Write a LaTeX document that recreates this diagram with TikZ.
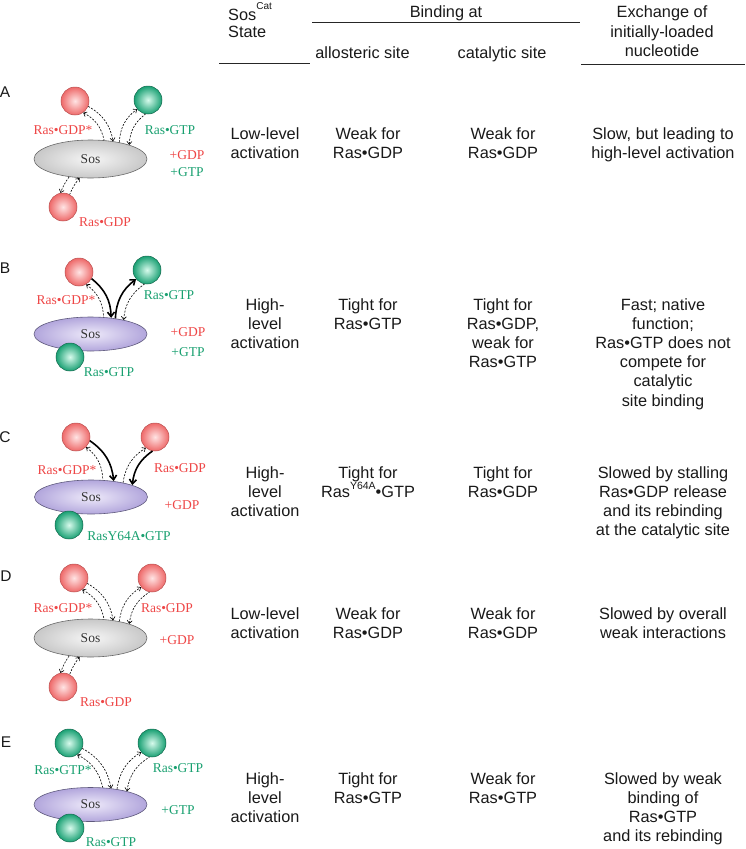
\documentclass[tikz,border=0pt]{standalone}
\usepackage{fontspec}
\setmainfont{Liberation Sans}
\newfontfamily\serif{Liberation Serif}
\usetikzlibrary{arrows.meta,shapes.geometric,calc}
\definecolor{redtxt}{RGB}{238,70,70}
\definecolor{greentxt}{RGB}{25,160,112}
\definecolor{ballR}{RGB}{238,105,105}
\definecolor{ballRin}{RGB}{255,228,228}
\definecolor{ballRd}{RGB}{185,80,80}
\definecolor{ballG}{RGB}{25,160,115}
\definecolor{ballGin}{RGB}{215,250,236}
\definecolor{ballGd}{RGB}{20,105,78}
\definecolor{grayin}{RGB}{246,246,246}
\definecolor{grayout}{RGB}{200,200,200}
\definecolor{grayd}{RGB}{105,105,105}
\definecolor{purin}{RGB}{238,234,250}
\definecolor{purout}{RGB}{178,166,220}
\definecolor{purd}{RGB}{95,90,125}
\definecolor{tabtxt}{RGB}{25,25,25}
\begin{document}
\begin{tikzpicture}[x=1pt,y=-1pt,
  tab/.style={font=\fontsize{16.3}{19.2}\selectfont, text=tabtxt, align=center, anchor=north, inner sep=0pt},
  hdr/.style={font=\fontsize{16.3}{19.5}\selectfont, text=tabtxt, inner sep=0pt},
  lbl/.style={font=\serif\fontsize{13.5}{16}\selectfont, inner sep=0pt},
  rlbl/.style={lbl, text=redtxt},
  glbl/.style={lbl, text=greentxt},
  letter/.style={font=\fontsize{15.5}{18}\selectfont, text=tabtxt, inner sep=0pt},
  redball/.style={circle, minimum size=28pt, inner sep=0pt, inner color=ballRin, outer color=ballR, draw=ballRd, line width=0.5pt},
  greenball/.style={circle, minimum size=28pt, inner sep=0pt, inner color=ballGin, outer color=ballG, draw=ballGd, line width=0.5pt},
  sosbase/.style={ellipse, minimum width=113pt, inner sep=0pt, line width=0.6pt, font=\serif\fontsize{13.5}{16}\selectfont, text=black!80},
  sosgray/.style={sosbase, minimum height=38pt, inner color=grayin, outer color=grayout, draw=grayd},
  sospurple/.style={sosbase, minimum height=34pt, inner color=purin, outer color=purout, draw=purd},
  dar/.style={dash pattern=on 2pt off 1.4pt, line width=0.6pt, -{Straight Barb[length=3pt,width=5pt]}},
  dal/.style={dash pattern=on 2pt off 1.4pt, line width=0.6pt, {Straight Barb[length=3pt,width=5pt]}-},
  thk/.style={line width=1.6pt, -{Straight Barb[length=4.5pt,width=7pt]}},
  thkl/.style={line width=1.6pt, {Straight Barb[length=4.5pt,width=7pt]}-},
  rule/.style={line width=1pt, draw=black!85},
  bl/.style={bend left=25},
  br/.style={bend right=8}
]
\useasboundingbox (0,0) rectangle (745,849);

% ---------- header ----------
\node[hdr, anchor=base west] (hsos) at (228,20) {Sos\smash{\raisebox{10.5pt}{\fontsize{10}{10}\selectfont Cat}}};
\node[hdr, anchor=base west] (hstate) at (228,37) {State};
\node[hdr, anchor=base] (hbind) at (446,17.5) {Binding at};
\node[hdr, anchor=base] (hallo) at (362.5,58) {allosteric site};
\node[hdr, anchor=base] (hcat) at (502,58) {catalytic site};
\node[hdr, anchor=base] (hex1) at (662,17) {Exchange of};
\node[hdr, anchor=base] (hex2) at (662,37) {initially-loaded};
\node[hdr, anchor=base] (hex3) at (662,56.5) {nucleotide};
\draw[rule] (219,63) -- (310,63);
\draw[rule] (312,22) -- (580,22);
\draw[rule] (581,64) -- (745,64);

% ---------- row A ----------
\node[letter] (lA) at (5,92) {A};
\node[sosgray] (sosA) at (90.5,159) {Sos};
\node[redball] (blA) at (75,101) {};
\node[greenball] (brA) at (148,100) {};
\node[redball] (bbA) at (63,207) {};
\node[rlbl] (tA1) at (63,130) {Ras•GDP*};
\node[glbl] (tA2) at (170,130) {Ras•GTP};
\node[rlbl] (tA3) at (187,155) {+GDP};
\node[glbl] (tA4) at (187,172) {+GTP};
\node[rlbl] (tA5) at (105,222) {Ras•GDP};
\draw[dal] (blA.-55) to[bl] (sosA.54);
\draw[dar] (blA.-22) to[bl] (sosA.38);
\draw[dar] (sosA.30) to[bl] (brA.-140);
\draw[dal] (sosA.20) to[bl] (brA.-100);
\draw[dar] (sosA.-140) to[br] (bbA.100);
\draw[dal] (sosA.-120) to[br] (bbA.62);

\node[tab] (sA) at (265,127.5) {Low-level\\activation};
\node[tab] (aA) at (368,127.5) {Weak for\\Ras•GDP};
\node[tab] (cA) at (503,127.5) {Weak for\\Ras•GDP};
\node[tab] (eA) at (663,127.5) {Slow, but leading to\\high-level activation};

% ---------- row B ----------
\node[letter] (lB) at (5,268) {B};
\node[sospurple] (sosB) at (90.5,334) {Sos};
\node[redball] (blB) at (79,272) {};
\node[greenball] (brB) at (147,270) {};
\node[greenball] (bbB) at (70,357) {};
\node[rlbl] (tB1) at (66,300) {Ras•GDP*};
\node[glbl] (tB2) at (169,295) {Ras•GTP};
\node[rlbl] (tB3) at (188,332) {+GDP};
\node[glbl] (tB4) at (188,352) {+GTP};
\node[glbl] (tB5) at (109,372) {Ras•GTP};
\draw[dal] (blB.-60) to[bl] (sosB.52);
\draw[thk] (blB.-28) to[bl] (sosB.38);
\draw[thk] (sosB.32) to[bl] (brB.-140);
\draw[dal] (sosB.23) to[bl] (brB.-100);

\node[tab] (sB) at (265,298) {High-\\level\\activation};
\node[tab] (aB) at (368,298) {Tight for\\Ras•GTP};
\node[tab] (cB) at (503,298) {Tight for\\Ras•GDP,\\weak for\\Ras•GTP};
\node[tab] (eB) at (663,298) {Fast; native\\function;\\Ras•GTP does not\\compete for\\catalytic\\site binding};

% ---------- row C ----------
\node[letter] (lC) at (5,437) {C};
\node[sospurple] (sosC) at (91,497) {Sos};
\node[redball] (blC) at (76,437) {};
\node[redball] (brC) at (155,437) {};
\node[greenball] (bbC) at (69,525) {};
\node[rlbl] (tC1) at (67,470) {Ras•GDP*};
\node[rlbl] (tC2) at (180,468) {Ras•GDP};
\node[rlbl] (tC3) at (182,505) {+GDP};
\node[glbl] (tC4) at (129,536) {RasY64A•GTP};
\draw[dal] (blC.-45) to[bl] (sosC.55);
\draw[thk] (blC.-15) to[bl] (sosC.35);
\draw[dar] (sosC.24) to[bl] (brC.-130);
\draw[thkl] (sosC.16) to[bl] (brC.-100);

\node[tab] (sC) at (265,466) {High-\\level\\activation};
\node[tab] (aC) at (368,466) {Tight for\\Ras\smash{\raisebox{7.5pt}{\fontsize{10.5}{10.5}\selectfont Y64A}}•GTP};
\node[tab] (cC) at (503,466) {Tight for\\Ras•GDP};
\node[tab] (eC) at (663,466) {Slowed by stalling\\Ras•GDP release\\and its rebinding\\at the catalytic site};

% ---------- row D ----------
\node[letter] (lD) at (6,576) {D};
\node[sosgray] (sosD) at (90.5,638) {Sos};
\node[redball] (blD) at (74,578) {};
\node[redball] (brD) at (152,578) {};
\node[redball] (bbD) at (63,687) {};
\node[rlbl] (tD1) at (63,608) {Ras•GDP*};
\node[rlbl] (tD2) at (167,608) {Ras•GDP};
\node[rlbl] (tD3) at (177,640) {+GDP};
\node[rlbl] (tD5) at (106,702) {Ras•GDP};
\draw[dal] (blD.-55) to[bl] (sosD.54);
\draw[dar] (blD.-22) to[bl] (sosD.38);
\draw[dar] (sosD.30) to[bl] (brD.-140);
\draw[dal] (sosD.20) to[bl] (brD.-100);
\draw[dar] (sosD.-140) to[br] (bbD.100);
\draw[dal] (sosD.-120) to[br] (bbD.62);

\node[tab] (sD) at (265,607) {Low-level\\activation};
\node[tab] (aD) at (368,607) {Weak for\\Ras•GDP};
\node[tab] (cD) at (503,607) {Weak for\\Ras•GDP};
\node[tab] (eD) at (663,607) {Slowed by overall\\weak interactions};

% ---------- row E ----------
\node[letter] (lE) at (6,742) {E};
\node[sospurple] (sosE) at (90.5,804.5) {Sos};
\node[greenball] (blE) at (69,743) {};
\node[greenball] (brE) at (152,743) {};
\node[greenball] (bbE) at (70,828) {};
\node[glbl] (tE1) at (63,770) {Ras•GTP*};
\node[glbl] (tE2) at (178,768) {Ras•GTP};
\node[glbl] (tE3) at (178,810) {+GTP};
\node[glbl] (tE5) at (111,842) {Ras•GTP};
\draw[dal] (blE.-55) to[bl] (sosE.54);
\draw[dar] (blE.-22) to[bl] (sosE.38);
\draw[dar] (sosE.30) to[bl] (brE.-140);
\draw[dal] (sosE.20) to[bl] (brE.-100);

\node[tab] (sE) at (265,772) {High-\\level\\activation};
\node[tab] (aE) at (368,772) {Tight for\\Ras•GTP};
\node[tab] (cE) at (503,772) {Weak for\\Ras•GTP};
\node[tab] (eE) at (663,772) {Slowed by weak\\binding of\\Ras•GTP\\and its rebinding};
\end{tikzpicture}
\end{document}
